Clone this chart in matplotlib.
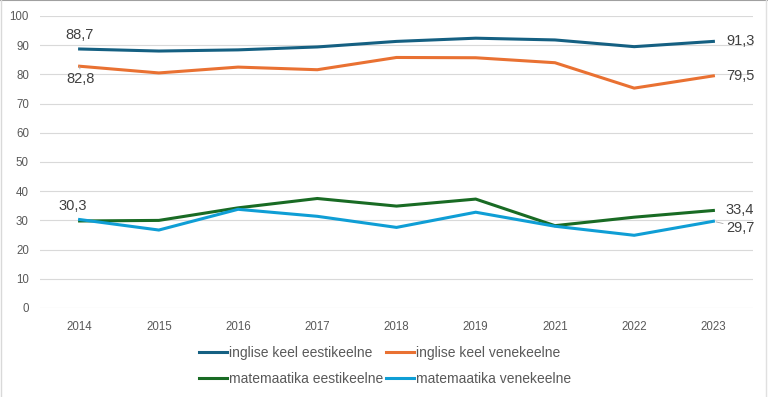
import matplotlib
matplotlib.use("Agg")
import matplotlib.pyplot as plt
from matplotlib.lines import Line2D

years = ["2014", "2015", "2016", "2017", "2018", "2019", "2021", "2022", "2023"]
inglise_eesti = [88.7, 88.0, 88.4, 89.4, 91.3, 92.4, 91.8, 89.5, 91.3]
inglise_vene = [82.8, 80.5, 82.5, 81.6, 85.8, 85.7, 84.0, 75.3, 79.5]
mat_eesti = [29.8, 30.0, 34.3, 37.5, 34.9, 37.3, 28.2, 31.1, 33.4]
mat_vene = [30.3, 26.7, 33.8, 31.4, 27.6, 32.8, 28.0, 24.9, 29.7]
series_names = ["inglise keel eestikeelne", "inglise keel venekeelne",
                "matemaatika eestikeelne", "matemaatika venekeelne"]
yticks = [0, 10, 20, 30, 40, 50, 60, 70, 80, 90, 100]

colors = ["#156082", "#E97132", "#196B24", "#0F9ED5"]
FONT = ["Liberation Sans", "DejaVu Sans"]
plt.rcParams['font.family'] = FONT

fig = plt.figure(figsize=(7.68, 3.97), dpi=100)
ax = fig.add_axes([40/768, (397-308)/397, (753-40)/768, (308-16)/397])

x = list(range(len(years)))
series = [inglise_eesti, inglise_vene, mat_eesti, mat_vene]
handles = []
for s, c, name in zip(series, colors, series_names):
    ln, = ax.plot(x, s, color=c, lw=2.2, solid_joinstyle='miter', label=name, zorder=3)
    handles.append(ln)

ax.set_xlim(-0.5, len(years) - 0.5)
ax.set_ylim(0, 100)
ax.set_yticks(yticks)
ax.set_xticks(x)
ax.set_xticklabels(years)
ax.grid(axis='y', color='#D9D9D9', lw=0.8, zorder=0)
ax.set_axisbelow(True)
for sp in ax.spines.values():
    sp.set_visible(False)
ax.tick_params(axis='both', length=0, labelsize=8.3, colors='#595959')
ax.tick_params(axis='x', pad=9)
ax.tick_params(axis='y', pad=8)

def fmt(v):
    return f"{v:.1f}".replace('.', ',')

lab_kw = dict(fontsize=10.5, color='#404040', textcoords='offset points')
# first-point labels
ax.annotate(fmt(inglise_eesti[0]), (0, inglise_eesti[0]), xytext=(0, 10), ha='center', va='center', **lab_kw)
ax.annotate(fmt(inglise_vene[0]), (0, inglise_vene[0]), xytext=(1, -9), ha='center', va='center',
            arrowprops=dict(arrowstyle='-', color='#A6A6A6', lw=0.6, shrinkA=0, shrinkB=4), **lab_kw)
ax.annotate(fmt(mat_vene[0]), (0, mat_vene[0]), xytext=(-5, 10), ha='center', va='center', **lab_kw)
# last-point labels
n = len(years) - 1
ax.annotate(fmt(inglise_eesti[n]), (n, inglise_eesti[n]), xytext=(9, 0), ha='left', va='center', **lab_kw)
ax.annotate(fmt(inglise_vene[n]), (n, inglise_vene[n]), xytext=(9, 0), ha='left', va='center', **lab_kw)
ax.annotate(fmt(mat_eesti[n]), (n, mat_eesti[n]), xytext=(9, 0), ha='left', va='center', **lab_kw)
ax.annotate(fmt(mat_vene[n]), (n, mat_vene[n]), xytext=(9, -4.5), ha='left', va='center',
            arrowprops=dict(arrowstyle='-', color='#A6A6A6', lw=0.6, shrinkA=0, shrinkB=2), **lab_kw)

# legend row-wise order (matplotlib fills columns first)
order = [0, 2, 1, 3]
leg = fig.legend(handles=[handles[i] for i in order], loc='center',
                 bbox_to_anchor=(385/768, 1 - 366/397), ncol=2,
                 frameon=False, fontsize=10, handlelength=2.0, handletextpad=0.15,
                 columnspacing=0.2, labelspacing=0.85)
for t in leg.get_texts():
    t.set_color('#595959')

# figure border
fig.add_artist(Line2D([0, 1], [0.999, 0.999], transform=fig.transFigure, color='#A0A0A0', lw=1.5))
fig.add_artist(Line2D([0.001, 0.001], [0, 1], transform=fig.transFigure, color='#D9D9D9', lw=1))
fig.add_artist(Line2D([0.997, 0.997], [0, 1], transform=fig.transFigure, color='#E0E0E0', lw=1))

fig.savefig("out.png", dpi=100)
